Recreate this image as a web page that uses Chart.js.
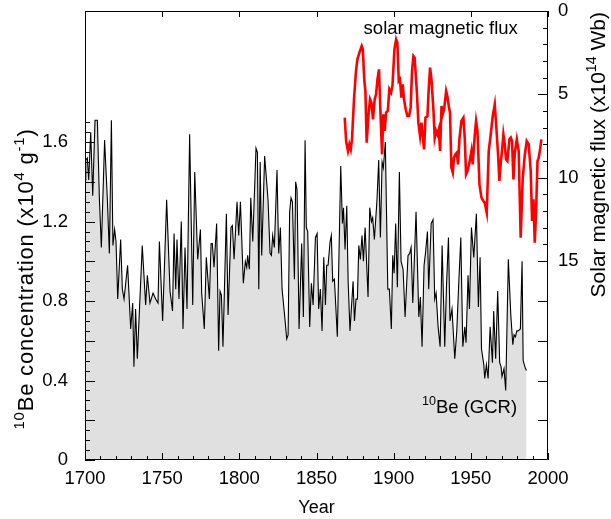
<!DOCTYPE html>
<html>
<head>
<meta charset="utf-8">
<script src="https://cdn.jsdelivr.net/npm/chart.js@4/dist/chart.umd.min.js"></script>
<style>
  html, body { margin: 0; padding: 0; background: #fff; }
</style>
</head>
<body>
<canvas id="grafico" width="611" height="519"></canvas>
<script>
// 10Be concentration (x10^4 g^-1)
var beYears = [1700.0, 1700.5, 1701.5, 1702.4, 1703.7, 1705.0, 1706.5, 1708.0, 1709.3, 1710.6,
  1712.7, 1714.5, 1715.8, 1717.1, 1718.1, 1719.2, 1720.1, 1721.2, 1723.1, 1724.2,
  1725.3, 1727.6, 1729.6, 1730.9, 1731.7, 1732.8, 1733.9, 1737.1, 1739.3, 1740.4,
  1742.1, 1744.1, 1745.8, 1747.3, 1748.2, 1750.3, 1752.9, 1755.1, 1756.7, 1757.7,
  1758.8, 1759.6, 1760.9, 1762.4, 1763.5, 1764.8, 1766.1, 1767.8, 1769.8, 1771.1,
  1773.0, 1774.8, 1775.6, 1777.3, 1778.6, 1780.6, 1781.7, 1782.5, 1783.6, 1785.3,
  1786.6, 1787.5, 1788.4, 1789.4, 1791.6, 1792.7, 1794.6, 1795.5, 1796.6, 1798.5,
  1799.6, 1800.7, 1802.6, 1803.9, 1804.8, 1805.4, 1806.5, 1807.4, 1808.7, 1810.8,
  1811.7, 1812.6, 1813.5, 1814.5, 1816.4, 1818.6, 1819.9, 1820.8, 1821.6, 1822.7,
  1824.4, 1825.5, 1826.6, 1827.7, 1829.2, 1830.7, 1831.6, 1832.6, 1833.5, 1834.4,
  1835.7, 1836.5, 1837.4, 1838.7, 1840.4, 1841.5, 1842.6, 1843.4, 1844.3, 1845.6,
  1846.7, 1847.8, 1849.3, 1850.4, 1851.4, 1852.5, 1853.6, 1854.7, 1855.8, 1856.6,
  1857.5, 1858.8, 1859.6, 1860.5, 1861.6, 1863.5, 1865.7, 1866.8, 1867.5, 1868.5,
  1869.6, 1870.5, 1871.7, 1873.7, 1874.6, 1875.6, 1876.5, 1877.4, 1878.4, 1879.5,
  1880.4, 1881.5, 1883.4, 1884.5, 1885.6, 1886.4, 1887.5, 1889.2, 1890.3, 1891.4,
  1892.5, 1893.3, 1894.6, 1896.2, 1897.2, 1898.5, 1899.4, 1900.3, 1901.3, 1902.4,
  1903.7, 1904.8, 1906.1, 1907.4, 1909.3, 1910.4, 1911.3, 1912.4, 1914.5, 1916.3,
  1917.3, 1918.4, 1919.7, 1920.6, 1921.9, 1922.7, 1924.3, 1925.5, 1926.6, 1927.5,
  1928.8, 1930.1, 1931.4, 1933.1, 1934.2, 1935.5, 1936.5, 1937.8, 1939.6, 1940.9,
  1941.9, 1943.5, 1944.8, 1946.1, 1946.9, 1948.2, 1949.1, 1950.4, 1951.9, 1953.6,
  1954.9, 1956.0, 1956.9, 1958.4, 1959.0, 1960.1, 1961.2, 1962.5, 1964.0, 1964.8,
  1966.1, 1967.4, 1968.7, 1969.6, 1970.2, 1971.5, 1972.6, 1974.3, 1975.9, 1977.2,
  1978.0, 1978.9, 1979.8, 1980.6, 1982.1, 1983.2, 1983.9, 1985.4, 1986.1];
var beValues = [1.41, 1.51, 1.52, 1.41, 1.65, 1.33, 1.71, 1.71, 1.32, 1.07,
  1.61, 1.31, 1.04, 1.71, 1.08, 1.16, 1.10, 0.81, 1.11, 0.86,
  0.81, 0.98, 0.66, 0.79, 0.47, 0.76, 0.51, 1.08, 0.78, 0.93,
  0.79, 0.84, 0.81, 0.79, 1.10, 0.70, 1.31, 0.85, 0.75, 1.14,
  0.86, 1.11, 0.81, 1.20, 0.66, 1.07, 0.76, 1.64, 0.78, 1.45,
  1.01, 1.16, 0.84, 0.66, 1.02, 0.81, 1.09, 1.09, 0.97, 1.19,
  0.55, 0.85, 0.83, 0.57, 1.24, 0.73, 1.17, 1.18, 1.01, 1.30,
  1.13, 1.30, 0.89, 1.00, 0.97, 1.03, 0.96, 1.32, 1.10, 1.57,
  1.55, 0.86, 1.50, 1.03, 1.53, 1.31, 1.04, 1.03, 1.13, 1.07,
  1.46, 1.04, 1.17, 0.86, 0.74, 0.61, 0.63, 1.25, 1.32, 1.30,
  0.91, 1.40, 1.36, 0.66, 1.09, 0.72, 1.61, 1.17, 1.15, 0.67,
  0.89, 0.78, 1.12, 1.14, 0.76, 0.86, 0.65, 1.02, 0.78, 0.98,
  0.98, 1.10, 1.13, 0.90, 0.91, 0.62, 1.48, 1.19, 1.27, 1.06,
  1.28, 0.90, 0.65, 0.90, 0.70, 0.81, 0.81, 1.08, 1.01, 1.13,
  1.00, 1.17, 0.82, 1.27, 1.20, 1.22, 1.11, 1.31, 1.51, 1.12,
  1.50, 1.47, 1.60, 0.86, 0.86, 0.66, 1.03, 0.94, 1.19, 0.87,
  1.45, 1.00, 0.96, 0.72, 1.03, 1.04, 1.07, 0.79, 1.25, 0.72,
  0.82, 0.57, 0.98, 1.04, 1.15, 0.86, 1.19, 1.21, 0.81, 0.84,
  0.67, 0.57, 1.08, 0.57, 0.87, 1.12, 0.70, 0.76, 0.51, 0.65,
  0.84, 1.12, 0.57, 0.67, 0.59, 0.93, 0.76, 1.17, 1.02, 1.24,
  0.77, 1.02, 0.56, 0.48, 0.41, 0.48, 0.41, 0.67, 0.49, 0.75,
  0.51, 0.85, 0.49, 0.47, 0.42, 0.46, 0.35, 1.01, 0.73, 0.58,
  0.63, 0.62, 0.65, 0.65, 0.66, 1.00, 0.50, 0.46, 0.45];

// solar magnetic flux (x10^14 Wb)
var fluxYears = [1868.3, 1869.2, 1870.4, 1871.3, 1872.2, 1873.0, 1874.3, 1875.6, 1876.5, 1877.8,
  1879.3, 1880.0, 1881.0, 1881.7, 1882.5, 1883.8, 1884.7, 1885.6, 1886.6, 1887.7,
  1888.6, 1889.5, 1890.5, 1891.4, 1892.5, 1893.3, 1894.2, 1895.1, 1896.2, 1897.2,
  1898.3, 1899.2, 1900.5, 1901.6, 1902.4, 1903.3, 1904.1, 1905.0, 1905.9, 1906.7,
  1907.8, 1908.9, 1910.0, 1911.0, 1911.9, 1912.8, 1913.6, 1915.0, 1916.0, 1917.1,
  1918.0, 1918.8, 1919.7, 1920.6, 1921.9, 1922.7, 1923.6, 1924.5, 1925.8, 1926.6,
  1927.5, 1928.3, 1929.2, 1930.1, 1931.0, 1931.8, 1932.7, 1934.0, 1934.8, 1935.7,
  1936.5, 1937.4, 1938.3, 1939.1, 1940.0, 1940.9, 1941.7, 1942.6, 1943.9, 1945.2,
  1946.1, 1946.9, 1947.8, 1949.1, 1950.4, 1951.2, 1952.5, 1953.4, 1954.3, 1955.6,
  1956.9, 1958.1, 1959.0, 1960.3, 1961.6, 1962.9, 1964.2, 1965.5, 1966.4, 1967.7,
  1968.5, 1969.4, 1970.2, 1971.1, 1972.0, 1972.8, 1973.7, 1975.0, 1975.9, 1976.7,
  1977.6, 1978.5, 1979.8, 1981.0, 1982.3, 1983.6, 1984.9, 1986.2, 1987.5, 1988.8,
  1989.7, 1990.6, 1991.4, 1992.3, 1993.2, 1994.0, 1994.9, 1995.7];
var fluxValues = [6.4, 7.8, 8.4, 8.0, 8.3, 7.7, 5.3, 3.6, 2.9, 2.5,
  2.1, 2.3, 4.2, 4.8, 7.9, 6.1, 5.3, 5.5, 6.5, 5.3,
  5.0, 4.1, 3.5, 6.0, 8.6, 6.2, 7.2, 6.1, 6.0, 4.7,
  4.9, 4.5, 2.3, 1.7, 1.9, 4.2, 4.1, 5.2, 4.4, 5.3,
  5.9, 6.3, 6.3, 5.8, 3.6, 2.7, 2.8, 4.8, 6.7, 7.5,
  6.7, 7.5, 8.3, 6.4, 6.3, 4.7, 3.4, 4.1, 6.0, 7.6,
  7.2, 7.4, 7.1, 8.4, 5.7, 6.2, 5.9, 4.8, 5.1, 5.7,
  6.1, 9.4, 9.7, 8.8, 8.6, 8.5, 9.2, 7.7, 6.6, 6.4,
  7.7, 9.8, 9.6, 9.1, 8.4, 9.2, 7.5, 6.6, 7.2, 10.4,
  11.2, 11.4, 11.5, 12.1, 8.4, 7.4, 6.3, 5.6, 6.8, 8.7,
  10.2, 9.1, 8.4, 7.4, 8.0, 8.9, 9.0, 7.7, 7.6, 7.8,
  10.1, 8.5, 7.7, 8.4, 13.6, 10.1, 8.7, 7.8, 8.0, 9.6,
  12.6, 11.3, 13.9, 12.0, 9.0, 8.8, 8.3, 7.7];

// axis ticks
var yearTicks = [1700, 1750, 1800, 1850, 1900, 1950, 2000];
var beTicks = [0, 0.4, 0.8, 1.2, 1.6];
var fluxTicks = [0, 5, 10, 15];

var fonte = "'Liberation Sans', Arial, Helvetica, sans-serif";
Chart.defaults.font.family = fonte;
Chart.defaults.color = '#000';

function pontos(xs, ys) {
  return xs.map(function (x, i) { return { x: x, y: ys[i] }; });
}

// texto com partes sobrescritas: [texto, sobrescrito]
function textoRico(ctx, partes, tam, x, y, alinhar) {
  var w = 0;
  partes.forEach(function (p) {
    ctx.font = (p[1] ? tam * 0.68 : tam) + 'px ' + fonte;
    w += ctx.measureText(p[0]).width;
  });
  var x0 = alinhar === 'center' ? x - w / 2 : (alinhar === 'right' ? x - w : x);
  partes.forEach(function (p) {
    ctx.font = (p[1] ? tam * 0.68 : tam) + 'px ' + fonte;
    ctx.fillText(p[0], x0, p[1] ? y - tam * 0.42 : y);
    x0 += ctx.measureText(p[0]).width;
  });
}

// sem folga extra das etiquetas nas pontas
function semFolga(s) {
  s.paddingTop = 0;
  s.paddingBottom = 0;
  s.paddingLeft = 0;
  s.paddingRight = 0;
}

// moldura, marcas para dentro e textos
var moldura = {
  id: 'moldura',
  afterDatasetsDraw: function (chart) {
    var ctx = chart.ctx, a = chart.chartArea;
    var sx = chart.scales.x, sy = chart.scales.y, s2 = chart.scales.y2;
    var v, p, len;
    ctx.save();
    ctx.strokeStyle = '#000';
    ctx.lineWidth = 1;
    ctx.beginPath();
    ctx.rect(a.left + 0.5, a.top + 0.5, a.right - a.left - 1, a.bottom - a.top - 1);
    for (v = 1700; v <= 2000; v += 10) {
      p = Math.round(sx.getPixelForValue(v)) + 0.5;
      len = v % 50 === 0 ? 7 : 4;
      ctx.moveTo(p, a.bottom);
      ctx.lineTo(p, a.bottom - len);
    }
    yearTicks.forEach(function (t) {
      p = Math.round(sx.getPixelForValue(t)) + 0.5;
      ctx.moveTo(p, a.top);
      ctx.lineTo(p, a.top + 6);
    });
    for (var i = 0; i <= 34; i++) {
      p = Math.round(sy.getPixelForValue(i * 0.05)) + 0.5;
      len = i % 4 === 0 ? 10 : 5;
      ctx.moveTo(a.left, p);
      ctx.lineTo(a.left + len, p);
    }
    for (var k = 0; k <= 15; k++) {
      p = Math.round(s2.getPixelForValue(k)) + 0.5;
      len = k % 5 === 0 ? 10 : 5;
      ctx.moveTo(a.right, p);
      ctx.lineTo(a.right - len, p);
    }
    for (var j = 1; j <= 5; j++) {
      p = Math.round(sy.getPixelForValue(j * 0.2)) + 0.5;
      ctx.moveTo(a.right, p);
      ctx.lineTo(a.right - 10, p);
    }
    ctx.stroke();

    ctx.fillStyle = '#000';
    ctx.textBaseline = 'alphabetic';
    textoRico(ctx, [['solar magnetic flux', 0]], 18.5, sx.getPixelForValue(1930.5), 34, 'center');
    textoRico(ctx, [['10', 1], ['Be (GCR)', 0]], 18.5, sx.getPixelForValue(1980), 413, 'right');

    // títulos dos eixos verticais
    ctx.save();
    ctx.translate(33, 279);
    ctx.rotate(-Math.PI / 2);
    ctx.letterSpacing = '0.8px';
    textoRico(ctx, [['10', 1], ['Be concentration (x10', 0], ['4', 1], [' g', 0], ['-1', 1], [')', 0]], 22, 0, 0, 'center');
    ctx.restore();
    ctx.save();
    ctx.translate(605, 12);
    ctx.rotate(-Math.PI / 2);
    textoRico(ctx, [['Solar magnetic flux (x10', 0], ['14', 1], [' Wb)', 0]], 21, 0, 0, 'right');
    ctx.restore();
    ctx.restore();
  }
};

var grafico = new Chart(document.getElementById('grafico'), {
  type: 'line',
  data: {
    datasets: [
      {
        label: '10Be (GCR)',
        data: pontos(beYears, beValues),
        yAxisID: 'y',
        borderColor: '#000',
        borderWidth: 1.1,
        backgroundColor: '#e0e0e0',
        fill: 'origin',
        pointRadius: 0,
        tension: 0,
        order: 2
      },
      {
        label: 'solar magnetic flux',
        data: pontos(fluxYears, fluxValues),
        yAxisID: 'y2',
        borderColor: '#ff0000',
        borderWidth: 2.6,
        fill: false,
        pointRadius: 0,
        tension: 0,
        order: 1
      }
    ]
  },
  options: {
    responsive: false,
    animation: false,
    devicePixelRatio: 1,
    layout: { padding: { top: 11, left: 0, right: 0, bottom: 0 } },
    plugins: {
      legend: { display: false },
      tooltip: { enabled: false }
    },
    scales: {
      x: {
        type: 'linear',
        position: 'bottom',
        min: 1700,
        max: 2000,
        afterBuildTicks: function (s) { s.ticks = yearTicks.map(function (v) { return { value: v }; }); },
        afterFit: function (s) { s.height = 59; semFolga(s); },
        ticks: { font: { size: 18.5 }, padding: 8, maxRotation: 0, callback: function (v) { return String(v); } },
        grid: { display: false, drawTicks: false },
        border: { display: false },
        title: { display: true, text: 'Year', font: { size: 18 }, padding: { top: 0, bottom: 0 } }
      },
      y: {
        type: 'linear',
        position: 'left',
        min: 0,
        max: 2.26,
        afterBuildTicks: function (s) { s.ticks = beTicks.map(function (v) { return { value: v }; }); },
        afterFit: function (s) { s.width = 85; semFolga(s); },
        ticks: { font: { size: 18.5 }, padding: 17, callback: function (v) { return v === 0 ? '0' : v.toFixed(1); } },
        grid: { display: false, drawTicks: false },
        border: { display: false }
      },
      y2: {
        type: 'linear',
        position: 'right',
        reverse: true,
        min: 0,
        max: 26.94,
        afterBuildTicks: function (s) { s.ticks = fluxTicks.map(function (v) { return { value: v }; }); },
        afterFit: function (s) { s.width = 63; semFolga(s); },
        ticks: { font: { size: 18.5 }, padding: 10, callback: function (v) { return String(v); } },
        grid: { display: false, drawTicks: false },
        border: { display: false }
      }
    }
  },
  plugins: [moldura]
});
</script>
</body>
</html>
